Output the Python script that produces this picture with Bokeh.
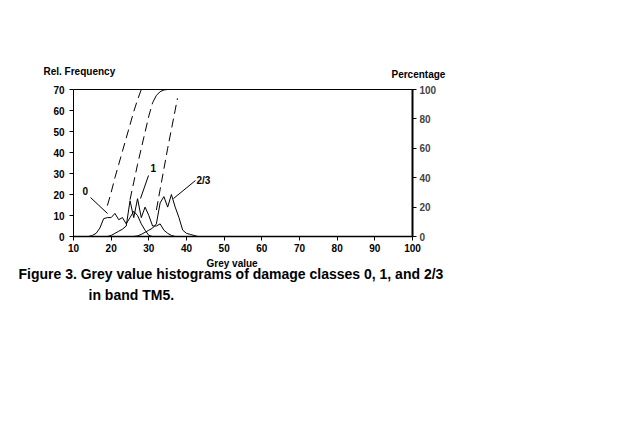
from bokeh.plotting import figure
from bokeh.models import Range1d, LinearAxis, FixedTicker
from bokeh.layouts import column
from bokeh.core.properties import value
from bokeh.embed import file_html
from bokeh.resources import INLINE

# ---------------- data ----------------
x_ticks = [10, 20, 30, 40, 50, 60, 70, 80, 90, 100]
freq_ticks = [0, 10, 20, 30, 40, 50, 60, 70]
pct_ticks = [0, 20, 40, 60, 80, 100]

class0_grey = [14, 15, 16, 17, 18, 19, 20, 21, 22, 23, 24, 25, 26, 27, 28, 29, 30, 31]
class0_freq = [0, 0.5, 1.5, 4, 8.5, 9, 9, 11, 8, 9, 6, 9, 12, 10, 6, 3, 0.5, 0]

class1_grey = [19, 20, 21, 22, 23, 24, 25, 26, 27, 28, 29, 30, 31, 32, 33, 34, 35, 36, 37]
class1_freq = [0, 0.5, 1.5, 2.5, 3.5, 5, 17, 9, 18, 9, 14, 10, 5, 5, 6, 3, 1.5, 0.5, 0]

class23_grey = [26, 27, 28, 29, 30, 31, 32, 33, 34, 35, 36, 37, 38, 39, 40, 41, 42, 43]
class23_freq = [0, 0.3, 1, 2, 3, 4, 6, 16, 19, 14, 20, 14, 9, 3, 1.5, 1, 0.5, 0]

cum0_grey = [19, 20, 21, 22, 23, 24, 25, 26, 27, 28]
cum0_pct = [21, 30, 40, 49, 58, 67, 76, 85, 93, 100]

cum1_grey = [25, 26, 27, 28, 29, 30, 31]
cum1_pct = [25, 37, 49, 60, 71, 82, 91]
cum1_top_grey = [31, 32, 33, 34, 35]
cum1_top_pct = [91, 96, 98.5, 99.7, 100]

cum23_grey = [32, 33, 34, 35, 36, 37, 37.6]
cum23_pct = [18, 32, 46, 60, 73, 86, 94]

class_labels = ["0", "1", "2/3"]
left_title = "Rel. Frequency"
right_title = "Percentage"
x_title = "Grey value"
caption_lines = ["Figure 3.  Grey value histograms of damage classes 0, 1, and 2/3",
                 "in band TM5."]

# ---------------- layout (page pixels) ----------------
FL, FR, FT, FB = 73, 412, 89, 236
W, H = 632, 432
HEAD_H = 80
FOOT_TOP = 258
FONT = "Liberation Sans"


def dx(px):
    return 10 + (px - FL) * 90.0 / (FR - FL)


def dy(py):
    return (FB - py) * 70.0 / (FB - FT)


def blank(height, top):
    f = figure(width=W, height=height, output_backend="svg", toolbar_location=None,
               x_range=Range1d(0, W), y_range=Range1d(top + height, top),
               x_axis_type=None, y_axis_type=None, frame_align=False,
               min_border_left=0, min_border_right=0, min_border_top=0, min_border_bottom=0)
    f.grid.visible = False
    f.outline_line_color = None
    f.background_fill_color = "white"
    f.border_fill_color = "white"
    return f


# header strip with the two axis titles
head = blank(HEAD_H, 0)
head.text(x=[43, 391], y=[65, 68], text=[left_title, right_title],
          text_font=value(FONT), text_font_style="bold", text_font_size="10px",
          text_align="left", text_baseline="top", text_color="black")

# main chart
MAIN_H = FOOT_TOP - HEAD_H
p = figure(width=W, height=MAIN_H, output_backend="svg", toolbar_location=None,
           x_range=Range1d(10, 100), y_range=Range1d(0, 70), frame_align=False,
           min_border_left=FL, min_border_right=W - FR,
           min_border_top=FT - HEAD_H, min_border_bottom=FOOT_TOP - FB)
p.extra_y_ranges = {"pct": Range1d(0, 100)}
p.grid.visible = False
p.outline_line_color = "black"
p.outline_line_width = 1
p.background_fill_color = "white"
p.border_fill_color = "white"

for ax in (p.xaxis[0], p.yaxis[0]):
    ax.minor_tick_line_color = None
    ax.major_tick_in = 0
    ax.major_tick_out = 4
    ax.axis_line_color = "black"
    ax.major_tick_line_color = "black"
    ax.major_label_text_font = FONT
    ax.major_label_text_font_style = "bold"
    ax.major_label_text_font_size = "10px"
    ax.major_label_text_color = "black"

p.xaxis[0].ticker = FixedTicker(ticks=x_ticks)
p.xaxis[0].axis_line_width = 1.5
p.xaxis[0].major_label_standoff = 3
p.yaxis[0].ticker = FixedTicker(ticks=freq_ticks)
p.yaxis[0].major_label_standoff = 5

rax = LinearAxis(y_range_name="pct", ticker=FixedTicker(ticks=pct_ticks))
rax.minor_tick_line_color = None
rax.major_tick_in = 0
rax.major_tick_out = 4
rax.axis_line_width = 2
rax.major_label_text_font = FONT
rax.major_label_text_font_style = "bold"
rax.major_label_text_font_size = "10px"
rax.major_label_standoff = 3
p.add_layout(rax, "right")

# histograms
p.line(class0_grey, class0_freq, line_color="black", line_width=1)
p.line(class1_grey, class1_freq, line_color="black", line_width=1)
p.line(class23_grey, class23_freq, line_color="black", line_width=1)

# cumulative curves
p.line(cum0_grey, cum0_pct, y_range_name="pct", line_color="black", line_width=1, line_dash="9 5")
p.line(cum1_grey, cum1_pct, y_range_name="pct", line_color="black", line_width=1, line_dash="9 5")
p.line(cum1_top_grey, cum1_top_pct, y_range_name="pct", line_color="black", line_width=1)
p.line(cum23_grey, cum23_pct, y_range_name="pct", line_color="black", line_width=1, line_dash="9 5")

# pointer lines and class labels
p.line([dx(90), dx(107)], [dy(197), dy(213)], line_color="black", line_width=1)
p.line([dx(148), dx(140)], [dy(175), dy(198)], line_color="black", line_width=1)
p.line([dx(195), dx(173)], [dy(180), dy(198)], line_color="black", line_width=1)
p.text(x=[dx(82), dx(150), dx(196)], y=[dy(186), dy(163), dy(174)], text=class_labels,
       text_font=value(FONT), text_font_style="bold", text_font_size="10px",
       text_align="left", text_baseline="top", text_color="black")

# footer strip: x title and caption
foot = blank(H - FOOT_TOP, FOOT_TOP)
foot.text(x=[206], y=[257], text=[x_title],
          text_font=value(FONT), text_font_style="bold", text_font_size="10px",
          text_align="left", text_baseline="top", text_color="black")
foot.text(x=[18, 88], y=[265, 286], text=caption_lines,
          text_font=value(FONT), text_font_style="bold", text_font_size="14px",
          text_align="left", text_baseline="top", text_color="black")

layout = column(head, p, foot, spacing=0)
open("out.html", "w").write(file_html(layout, INLINE))
